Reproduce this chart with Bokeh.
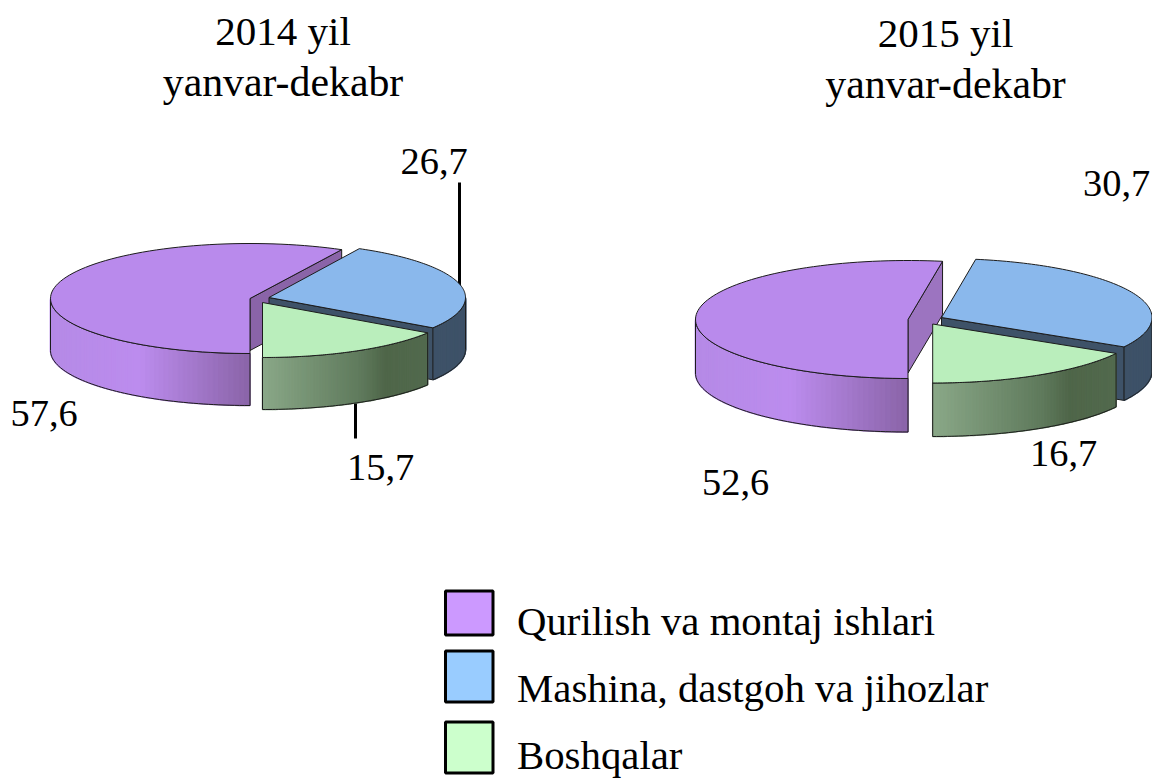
import math
from bokeh.plotting import figure
from bokeh.models import Range1d
from bokeh.core.properties import value
from bokeh.embed import file_html
from bokeh.resources import INLINE

categories = ["Qurilish va montaj ishlari", "Mashina, dastgoh va jihozlar", "Boshqalar"]
values_2014 = [57.6, 26.7, 15.7]
values_2015 = [52.6, 30.7, 16.7]
title_2014 = ["2014 yil", "yanvar-dekabr"]
title_2015 = ["2015 yil", "yanvar-dekabr"]

FONT = value("Liberation Serif")
TOPS = ["#b98aec", "#8ab8ec", "#baeebc"]
LEGEND_COLORS = ["#cc99ff", "#99ccff", "#ccffcc"]
BLUE_WALL = "#3e5268"
PURPLE_STOPS = [(0, "#b58ae6"), (0.45, "#bc8cee"), (1, "#8a64a8")]
GREEN_STOPS = [(0, "#8aa888"), (0.6, "#5f7a5c"), (0.75, "#4f6649"), (1, "#526a4e")]

p = figure(width=1152, height=778, x_range=Range1d(0, 1152), y_range=Range1d(778, 0),
           output_backend="svg", toolbar_location=None, min_border=0, outline_line_color=None,
           background_fill_color="white", border_fill_color="white")
p.axis.visible = False
p.grid.visible = False


def hex2rgb(c):
    return tuple(int(c[i:i + 2], 16) for i in (1, 3, 5))


def ramp(stops, f):
    for (a, ca), (b, cb) in zip(stops, stops[1:]):
        if f <= b:
            u = (f - a) / (b - a) if b > a else 0
            ra, rb = hex2rgb(ca), hex2rgb(cb)
            return "#%02x%02x%02x" % tuple(round(x + (y - x) * u) for x, y in zip(ra, rb))
    return stops[-1][1]


def arc(cx, cy, rx, ry, a0, a1, n=90):
    ts = [math.radians(a0 + (a1 - a0) * i / n) for i in range(n + 1)]
    return [cx + rx * math.cos(t) for t in ts], [cy - ry * math.sin(t) for t in ts]


def wall(c, rx, ry, h, a0, a1, stops):
    """Outer wall of a slice between math angles a0 and a1 on the front half."""
    cx, cy = c
    if stops is None:
        stops = [(0, BLUE_WALL), (1, BLUE_WALL)]
    xs_all, ys_all = arc(cx, cy, rx, ry, a0, a1, 60)
    xmin, xmax = min(xs_all), max(xs_all)
    qx, qy, cols = [], [], []
    for i in range(60):
        x0, x1 = xs_all[i], xs_all[i + 1]
        y0, y1 = ys_all[i], ys_all[i + 1]
        qx.append([x0, x1, x1, x0])
        qy.append([y0, y1, y1 + h, y0 + h])
        f = ((x0 + x1) / 2 - xmin) / (xmax - xmin)
        cols.append(ramp(stops, f))
    p.patches(qx, qy, fill_color=cols, line_color=cols, line_width=1.5)
    p.line(xs_all + xs_all[::-1] + [xs_all[0]],
           ys_all + [y + h for y in ys_all[::-1]] + [ys_all[0]],
           line_color="#1c1c1c", line_width=1)


def radial_face(c, rx, ry, h, a, color):
    cx, cy = c
    ex = cx + rx * math.cos(math.radians(a))
    ey = cy - ry * math.sin(math.radians(a))
    p.patch([cx, ex, ex, cx], [cy, ey, ey + h, cy + h], fill_color=color,
            line_color="#1c1c1c", line_width=1)


def top(c, rx, ry, a0, a1, color):
    xs, ys = arc(c[0], c[1], rx, ry, a0, a1)
    p.patch([c[0]] + xs + [c[0]], [c[1]] + ys + [c[1]], fill_color=color,
            line_color="#1c1c1c", line_width=1)


def pie(vals, centers, rxs, ry, h, cut_color):
    total = sum(vals)
    a = [270.0]
    for v in vals:
        a.append(a[-1] - 360 * v / total)
    # purple slice
    radial_face(centers[0], rxs[0], ry, h, a[1], cut_color)
    wall(centers[0], rxs[0], ry, h, 180, 270, PURPLE_STOPS)
    top(centers[0], rxs[0], ry, a[0], a[1], TOPS[0])
    # blue slice
    radial_face(centers[1], rxs[1], ry, h, a[2], BLUE_WALL)
    wall(centers[1], rxs[1], ry, h, a[2], 0, None)
    top(centers[1], rxs[1], ry, a[1], a[2], TOPS[1])
    # green slice
    wall(centers[2], rxs[2], ry, h, a[3], a[2], GREEN_STOPS)
    top(centers[2], rxs[2], ry, a[2], a[3], TOPS[2])


def label(x, y, s, size=38.4, align="left"):
    # the SVG text sits about 0.4 em under the requested baseline
    p.text([x], [y - 0.4 * size], text=[s], text_font=FONT, text_font_size=f"{size}px",
           text_color="#000000", text_baseline="alphabetic", text_align=align)


def num(v):
    return str(v).replace(".", ",")


# leader lines sit behind the pie
p.line([459, 459], [182, 290], line_color="black", line_width=3)
p.line([355, 355], [400, 438], line_color="black", line_width=3)

pie(values_2014, [(249.5, 298), (268.5, 297), (262, 302)], [199.5, 196.5, 198], 55, 52, "#8a64a8")
pie(values_2015, [(907.5, 319), (941, 317), (932.2, 323.5)], [212.5, 210.5, 211.5], 59, 53.5, "#9c74c0")

label(282.5, 47, title_2014[0], 41, "center")
label(282.5, 98, title_2014[1], 41.8, "center")
label(945, 49, title_2015[0], 41, "center")
label(945, 100, title_2015[1], 41.8, "center")

label(400, 176, num(values_2014[1]))
label(10, 428, num(values_2014[0]))
label(346.5, 482, num(values_2014[2]))
label(1082.5, 198, num(values_2015[1]))
label(701.5, 497, num(values_2015[0]))
label(1029.5, 468, num(values_2015[2]))

box_y = [(590.5, 634.5), (650.5, 701.5), (721.5, 772.5)]
text_y = [637, 704, 771]
for (y0, y1), ty, col, cat in zip(box_y, text_y, LEGEND_COLORS, categories):
    p.quad(left=[445], right=[492.5], top=[y0], bottom=[y1], fill_color=col,
           line_color="black", line_width=3)
    label(516.5, ty, cat, 40.8)

open("out.html", "w").write(file_html(p, INLINE))
